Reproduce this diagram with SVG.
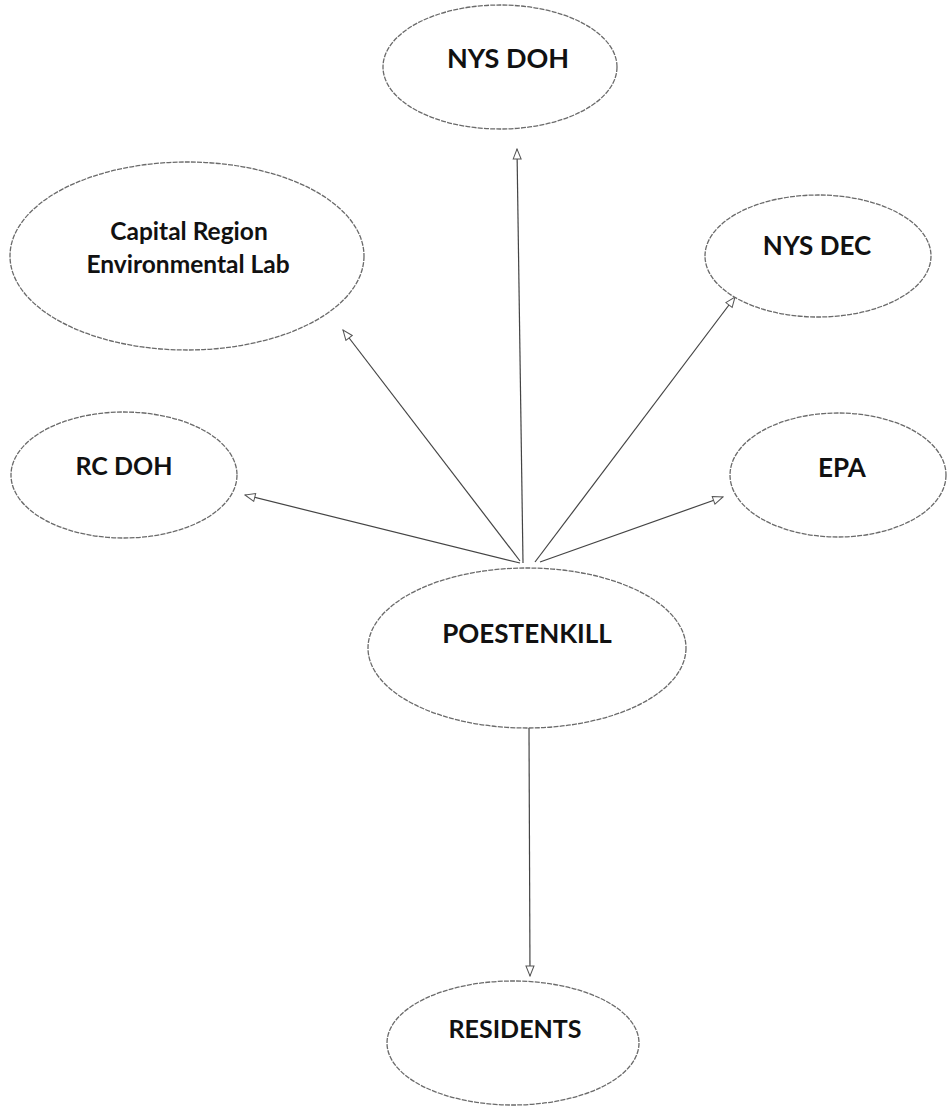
<svg xmlns="http://www.w3.org/2000/svg" width="948" height="1109" viewBox="0 0 948 1109">
  <style>
    .node ellipse { fill: #ffffff; stroke: #6a6a6a; stroke-width: 1.3; stroke-dasharray: 5 1.2; }
    .node text { font-family: "Lato", "Open Sans", "Liberation Sans", sans-serif; font-weight: bold; fill: #111; text-anchor: middle; }
    .edge { stroke: #444; stroke-width: 1.2; fill: none; marker-end: url(#open); }
  </style>
  <defs>
    <marker id="open" viewBox="0 0 12 10" refX="11" refY="5" markerWidth="12" markerHeight="10" markerUnits="userSpaceOnUse" orient="auto">
      <path d="M1,1 L11,5 L1,9 Z" fill="#fff" stroke="#555" stroke-width="1"/>
    </marker>
  </defs>
  <rect width="948" height="1109" fill="#ffffff"/>

  <g id="connectors">
    <line class="edge" x1="523" y1="563" x2="517" y2="149"/>
    <line class="edge" x1="520" y1="561" x2="343" y2="330"/>
    <line class="edge" x1="535" y1="562" x2="735" y2="297"/>
    <line class="edge" x1="520" y1="563" x2="245" y2="495"/>
    <line class="edge" x1="540" y1="562" x2="723" y2="497"/>
    <line class="edge" x1="529" y1="728" x2="530" y2="976"/>
  </g>

  <g id="nys-doh" class="node">
    <ellipse cx="500" cy="67" rx="117" ry="62"/>
    <text x="508" y="68" font-size="27">NYS DOH</text>
  </g>
  <g id="capital-region" class="node">
    <ellipse cx="187" cy="256" rx="177" ry="94"/>
    <text x="189" y="240" font-size="24.5">Capital Region</text>
    <text x="188" y="273" font-size="24.5">Environmental Lab</text>
  </g>
  <g id="nys-dec" class="node">
    <ellipse cx="818" cy="256" rx="113" ry="61"/>
    <text x="817" y="255" font-size="26">NYS DEC</text>
  </g>
  <g id="rc-doh" class="node">
    <ellipse cx="124" cy="475" rx="113" ry="63"/>
    <text x="124" y="475" font-size="25">RC DOH</text>
  </g>
  <g id="epa" class="node">
    <ellipse cx="838" cy="475" rx="108" ry="62"/>
    <text x="842" y="477" font-size="26">EPA</text>
  </g>
  <g id="poestenkill" class="node">
    <ellipse cx="527" cy="648" rx="159" ry="80"/>
    <text x="527" y="643" font-size="26">POESTENKILL</text>
  </g>
  <g id="residents" class="node">
    <ellipse cx="513" cy="1043" rx="126" ry="62"/>
    <text x="515" y="1038" font-size="25">RESIDENTS</text>
  </g>
</svg>
